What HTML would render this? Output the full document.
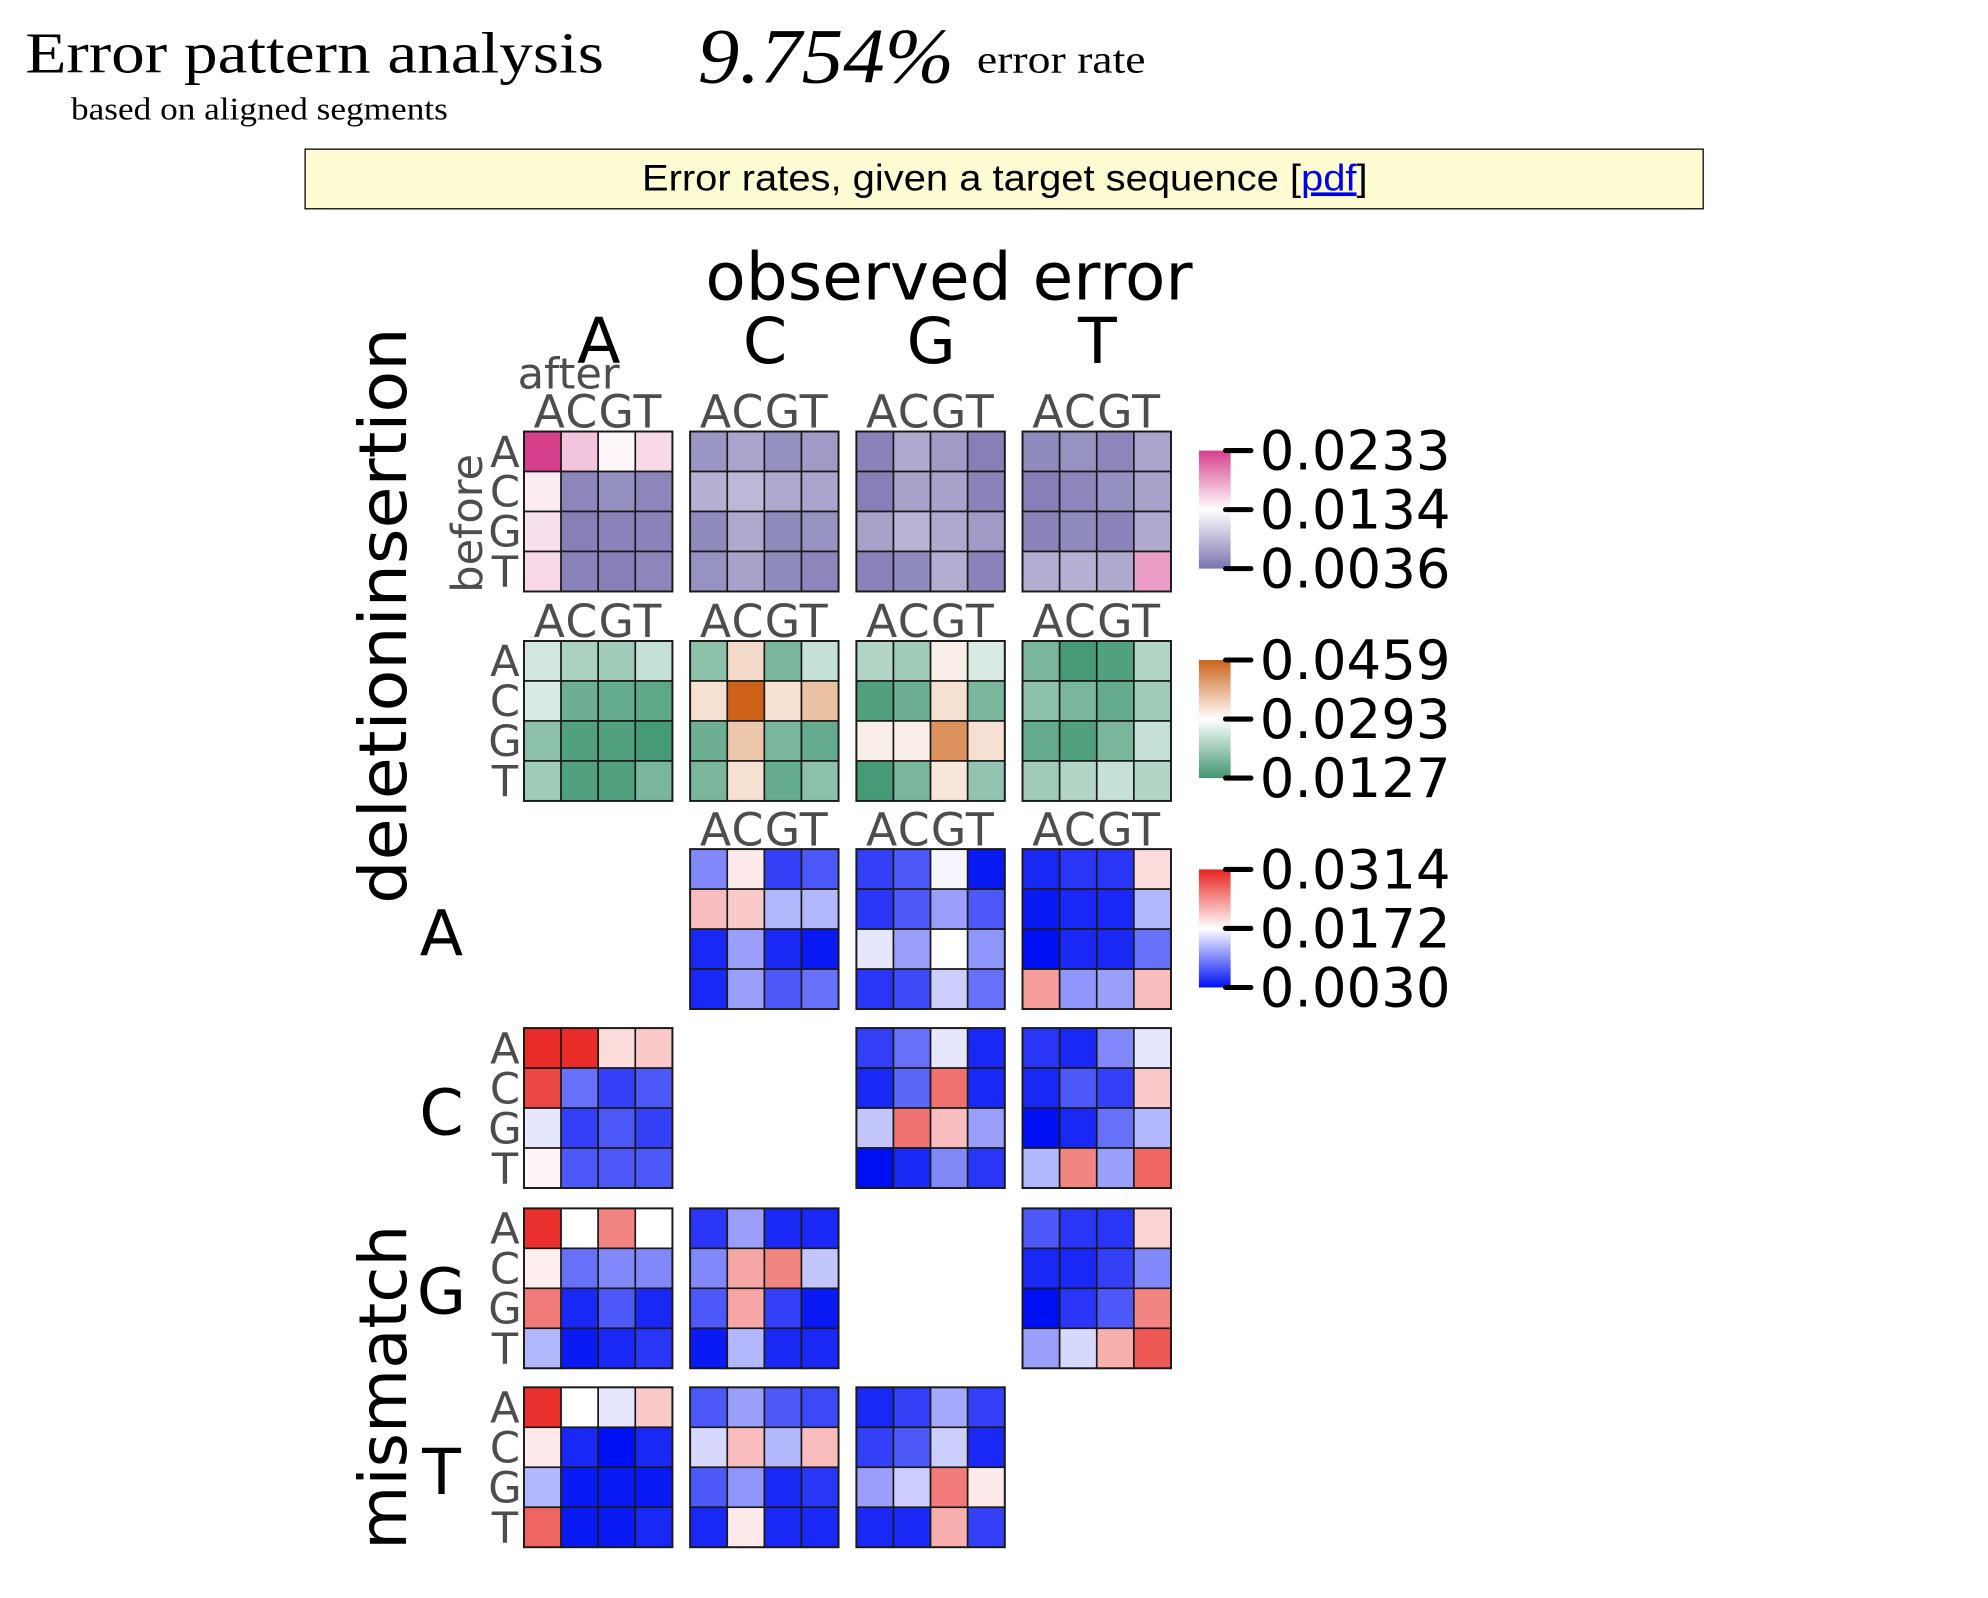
<!DOCTYPE html>
<html><head><meta charset="utf-8"><style>
html,body{margin:0;padding:0;background:#fff;width:1988px;height:1598px;overflow:hidden}
svg{display:block}
</style></head><body>
<svg id="s" width="1988" height="1598" viewBox="0 0 1567 1259" preserveAspectRatio="none" xmlns="http://www.w3.org/2000/svg">
<text x="20" y="57" font-family="Liberation Serif,serif" font-size="46" textLength="456" lengthAdjust="spacingAndGlyphs">Error pattern analysis</text>
<text x="56" y="94" font-family="Liberation Serif,serif" font-size="25" textLength="297" lengthAdjust="spacingAndGlyphs">based on aligned segments</text>
<text x="550" y="65" font-family="Liberation Serif,serif" font-size="62" font-style="italic" textLength="202" lengthAdjust="spacingAndGlyphs">9.754%</text>
<text x="770" y="57" font-family="Liberation Serif,serif" font-size="31" textLength="133" lengthAdjust="spacingAndGlyphs">error rate</text>
<rect x="240.5" y="117.5" width="1102" height="47" fill="#fffcd4" stroke="#000" stroke-width="1"/>
<text x="506" y="150" font-family="Liberation Sans,sans-serif" font-size="29" textLength="572" lengthAdjust="spacingAndGlyphs">Error rates, given a target sequence [<tspan fill="#0000ee" text-decoration="underline">pdf</tspan>]</text>
<text x="748" y="236" text-anchor="middle" font-family="DejaVu Sans,sans-serif" font-size="52" textLength="384" lengthAdjust="spacingAndGlyphs">observed error</text>
<g font-family="DejaVu Sans,sans-serif" font-size="50" text-anchor="middle">
<text x="472" y="286">A</text><text x="603" y="286">C</text><text x="734" y="286">G</text><text x="865" y="286">T</text>
<text x="348" y="753">A</text><text x="348" y="894">C</text><text x="348" y="1035">G</text><text x="348" y="1177">T</text>
</g>
<text x="408" y="306" font-family="DejaVu Sans,sans-serif" font-size="34" fill="#4d4d4d">after</text>
<text transform="translate(380,467) rotate(-90)" font-family="DejaVu Sans,sans-serif" font-size="34" fill="#4d4d4d">before</text>
<text transform="translate(320,485) rotate(-90)" text-anchor="middle" font-family="DejaVu Sans,sans-serif" font-size="52" textLength="454" lengthAdjust="spacingAndGlyphs">deletioninsertion</text>
<text transform="translate(320,1093) rotate(-90)" text-anchor="middle" font-family="DejaVu Sans,sans-serif" font-size="52" textLength="256" lengthAdjust="spacingAndGlyphs">mismatch</text>
<defs>
<linearGradient id="g1" x1="0" y1="1" x2="0" y2="0"><stop offset="0" stop-color="#7a74b0"/><stop offset="0.5" stop-color="#ffffff"/><stop offset="1" stop-color="#d63f8c"/></linearGradient>
<linearGradient id="g2" x1="0" y1="1" x2="0" y2="0"><stop offset="0" stop-color="#3f9670"/><stop offset="0.5" stop-color="#ffffff"/><stop offset="1" stop-color="#cc6318"/></linearGradient>
<linearGradient id="g3" x1="0" y1="1" x2="0" y2="0"><stop offset="0" stop-color="#0010f5"/><stop offset="0.5" stop-color="#ffffff"/><stop offset="1" stop-color="#e8231f"/></linearGradient>
</defs>
<g id="cells"></g>
</svg>
<script>
var S=document.getElementById('s'),G=document.getElementById('cells'),NS='http://www.w3.org/2000/svg';
function el(t,a,txt){var e=document.createElementNS(NS,t);for(var k in a)e.setAttribute(k,a[k]);if(txt)e.textContent=txt;G.appendChild(e);return e;}
var maps=[[[122,116,176],[214,63,140]],[[63,150,112],[204,99,24]],[[0,16,245],[232,35,31]]];
function col(m,v){if(m==0&&v<0.5)v=v*0.55;var lo=maps[m][0],hi=maps[m][1],c,t;if(v<0.5){c=lo;t=(0.5-v)/0.5}else{c=hi;t=(v-0.5)/0.5}
return 'rgb('+[0,1,2].map(function(i){return Math.round(255+(c[i]-255)*t)}).join(',')+')';}
var X=[413,544,675,806],Y=[340,505,669,810,952,1093],cw=117/4,ch=126/4;
var D={
'0,0':[[1,0.65,0.52,0.6],[0.55,0.12,0.18,0.12],[0.58,0.08,0.1,0.1],[0.6,0.1,0.08,0.12]],
'0,1':[[0.22,0.32,0.18,0.25],[0.4,0.45,0.35,0.32],[0.15,0.35,0.15,0.2],[0.2,0.3,0.15,0.12]],
'0,2':[[0.1,0.35,0.25,0.08],[0.08,0.3,0.3,0.1],[0.3,0.42,0.35,0.25],[0.1,0.15,0.38,0.1]],
'0,3':[[0.15,0.2,0.12,0.32],[0.08,0.12,0.18,0.3],[0.1,0.15,0.1,0.35],[0.38,0.4,0.35,0.75]],
'1,0':[[0.38,0.28,0.25,0.35],[0.4,0.12,0.1,0.08],[0.2,0.05,0.05,0.02],[0.25,0.05,0.05,0.15]],
'1,1':[[0.2,0.62,0.15,0.35],[0.6,1.0,0.6,0.7],[0.12,0.68,0.15,0.1],[0.15,0.6,0.1,0.2]],
'1,2':[[0.3,0.25,0.55,0.4],[0.05,0.12,0.6,0.15],[0.55,0.55,0.85,0.6],[0.02,0.15,0.58,0.22]],
'1,3':[[0.15,0.02,0.05,0.3],[0.2,0.15,0.1,0.25],[0.1,0.05,0.15,0.35],[0.25,0.3,0.35,0.3]],
'2,1':[[0.25,0.55,0.1,0.15],[0.65,0.62,0.35,0.35],[0.05,0.3,0.05,0.02],[0.05,0.3,0.15,0.2]],
'2,2':[[0.1,0.15,0.48,0.02],[0.08,0.15,0.3,0.15],[0.45,0.3,0.5,0.28],[0.08,0.12,0.4,0.2]],
'2,3':[[0.05,0.08,0.08,0.58],[0.02,0.05,0.05,0.35],[0.0,0.05,0.05,0.2],[0.72,0.28,0.3,0.65]],
'3,0':[[0.98,0.98,0.58,0.62],[0.92,0.2,0.1,0.15],[0.45,0.1,0.15,0.1],[0.52,0.15,0.15,0.15]],
'3,2':[[0.1,0.2,0.45,0.05],[0.05,0.18,0.82,0.05],[0.38,0.82,0.65,0.3],[0.0,0.05,0.25,0.08]],
'3,3':[[0.08,0.05,0.25,0.45],[0.05,0.15,0.1,0.62],[0.0,0.05,0.2,0.35],[0.35,0.78,0.3,0.85]],
'4,0':[[0.97,0.5,0.78,0.5],[0.54,0.2,0.25,0.25],[0.8,0.05,0.15,0.05],[0.35,0.02,0.05,0.08]],
'4,1':[[0.08,0.3,0.05,0.05],[0.25,0.7,0.78,0.38],[0.15,0.7,0.1,0.02],[0.02,0.35,0.05,0.05]],
'4,3':[[0.15,0.08,0.08,0.6],[0.05,0.05,0.1,0.25],[0.0,0.08,0.15,0.78],[0.3,0.42,0.68,0.88]],
'5,0':[[0.97,0.5,0.45,0.62],[0.55,0.05,0.0,0.05],[0.35,0.02,0.02,0.02],[0.85,0.02,0.02,0.05]],
'5,1':[[0.15,0.3,0.15,0.12],[0.42,0.65,0.35,0.65],[0.15,0.28,0.05,0.08],[0.05,0.55,0.05,0.05]],
'5,2':[[0.05,0.1,0.32,0.1],[0.1,0.15,0.4,0.05],[0.3,0.4,0.8,0.55],[0.05,0.05,0.68,0.1]]};
var L='ACGT';
for(var key in D){var p=key.split(','),r=+p[0],c=+p[1],m=r<2?r:2,d=D[key];
 for(var i=0;i<4;i++)for(var j=0;j<4;j++)el('rect',{x:X[c]+j*cw,y:Y[r]+i*ch,width:cw,height:ch,fill:col(m,d[i][j]),stroke:'#1a1a1a','stroke-width':1.3});
 el('rect',{x:X[c],y:Y[r],width:117,height:126,fill:'none',stroke:'#1a1a1a','stroke-width':1.5});
}
function hdr(x,y){el('text',{x:x+58.5,y:y,'text-anchor':'middle','font-family':'DejaVu Sans,sans-serif','font-size':36,fill:'#4d4d4d','letter-spacing':'1'},'ACGT');}
for(var c=0;c<4;c++){hdr(X[c],337);hdr(X[c],502);}
for(var c=1;c<4;c++)hdr(X[c],666);
function rl(y){for(var i=0;i<4;i++)el('text',{x:398,y:y+i*ch+ch/2+12,'text-anchor':'middle','font-family':'DejaVu Sans,sans-serif','font-size':34,fill:'#4d4d4d'},L[i]);}
rl(340);rl(505);rl(810);rl(952);rl(1093);
var lg=[[355,'g1',['0.0233','0.0134','0.0036']],[520,'g2',['0.0459','0.0293','0.0127']],[685,'g3',['0.0314','0.0172','0.0030']]];
lg.forEach(function(q){el('rect',{x:945,y:q[0],width:25,height:93,fill:'url(#'+q[1]+')'});
 for(var k=0;k<3;k++){var yy=q[0]+k*46.5;el('line',{x1:966,y1:yy,x2:986,y2:yy,stroke:'#000','stroke-width':4,'stroke-linecap':'round'});
 el('text',{x:993,y:yy+15,'font-family':'DejaVu Sans,sans-serif','font-size':43},q[2][k]);}});
</script>
</body></html>
